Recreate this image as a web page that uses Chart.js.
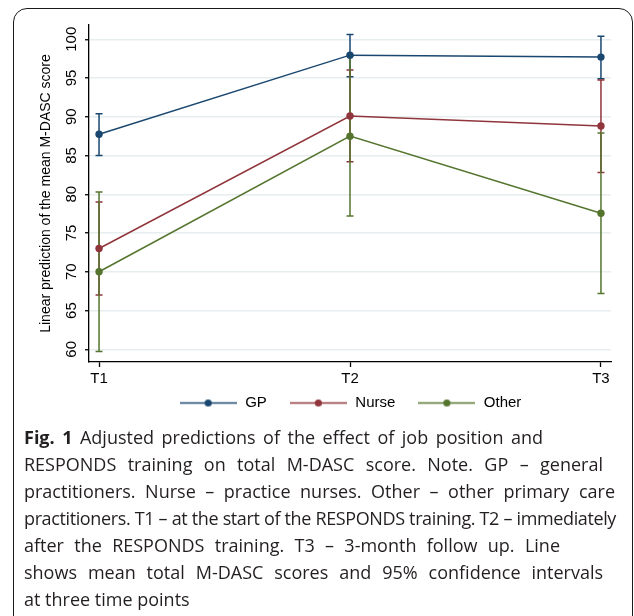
<!DOCTYPE html>
<html>
<head>
<meta charset="utf-8">
<script src="https://cdn.jsdelivr.net/npm/chart.js@4.4.1/dist/chart.umd.min.js"></script>
<style>
  html, body { margin: 0; padding: 0; background: #fff; }
  body { width: 634px; height: 616px; position: relative; overflow: hidden; }
  #frame { position: absolute; left: 13px; top: 8px; width: 620px; height: 640px;
           border: 1.6px solid #1a1a1a; border-radius: 14px; box-sizing: border-box; }
  #plot { position: absolute; left: 0; top: 0; }
  #caption { position: absolute; left: 24px; top: 424px; font-family: "Open Sans", sans-serif;
             font-size: 18px; line-height: 27px; color: #231f20; }
  #caption .ln { text-align: justify; text-align-last: justify; }
  #caption .last { text-align: left; text-align-last: left; }
</style>
</head>
<body>
<div id="frame"></div>
<canvas id="plot" width="634" height="438"></canvas>
<div id="caption">
  <div class="ln" style="width:519px"><b>Fig. 1</b> Adjusted predictions of the effect of job position and</div>
  <div class="ln" style="width:579px">RESPONDS training on total M-DASC score. Note. GP – general</div>
  <div class="ln" style="width:591px">practitioners. Nurse – practice nurses. Other – other primary care</div>
  <div class="ln" style="width:592px;letter-spacing:-0.38px">practitioners. T1 – at the start of the RESPONDS training. T2 – immediately</div>
  <div class="ln" style="width:536px">after the RESPONDS training. T3 – 3-month follow up. Line</div>
  <div class="ln" style="width:579px">shows mean total M-DASC scores and 95% confidence intervals</div>
  <div class="ln last">at three time points</div>
</div>
<script>
  // chart values
  const timePoints = ['T1', 'T2', 'T3'];
  const yTickValues = [60, 65, 70, 75, 80, 85, 90, 95, 100];
  const groups = ['GP', 'Nurse', 'Other'];

  const gpMean = [87.75, 97.95, 97.7];
  const gpLow = [85.0, 95.15, 94.9];
  const gpHigh = [90.4, 100.6, 100.4];

  const nurseMean = [73.0, 90.1, 88.8];
  const nurseLow = [67.0, 84.2, 82.8];
  const nurseHigh = [79.0, 96.05, 94.75];

  const otherMean = [70.0, 87.5, 77.55];
  const otherLow = [59.7, 77.2, 67.2];
  const otherHigh = [80.3, 97.8, 87.9];

  const groupColors = ['#1a476f', '#90353b', '#55752f'];
  const FONT = '"Liberation Sans", Arial, sans-serif';

  function series(label, mean, low, high, color) {
    return {
      label: label,
      data: mean.map((v, i) => ({x: i + 1, y: v})),
      ciLow: low,
      ciHigh: high,
      borderColor: color,
      backgroundColor: color,
      borderWidth: 1.5,
      pointRadius: 3.7,
      pointBorderWidth: 0,
      pointBackgroundColor: color,
      tension: 0,
      fill: false
    };
  }

  // vertical 95% CI caps, drawn under the lines
  const ciBars = {
    id: 'ciBars',
    beforeDatasetsDraw(chart) {
      const ctx = chart.ctx, x = chart.scales.x, y = chart.scales.y;
      chart.data.datasets.forEach(ds => {
        ctx.save();
        ctx.strokeStyle = ds.borderColor;
        ctx.lineWidth = 1.5;
        ds.data.forEach((pt, i) => {
          const px = x.getPixelForValue(pt.x);
          const y1 = y.getPixelForValue(ds.ciLow[i]);
          const y2 = y.getPixelForValue(ds.ciHigh[i]);
          ctx.beginPath();
          ctx.moveTo(px, y1); ctx.lineTo(px, y2);
          ctx.moveTo(px - 3.5, y1); ctx.lineTo(px + 3.5, y1);
          ctx.moveTo(px - 3.5, y2); ctx.lineTo(px + 3.5, y2);
          ctx.stroke();
        });
        ctx.restore();
      });
    }
  };

  // the legend sits closer to the axis than its item padding would allow
  const legendLift = {
    id: 'legendLift',
    afterLayout(chart) {
      const lg = chart.legend;
      if (lg) { lg.top -= 17.5; lg.bottom -= 17.5; }
    }
  };

  // legend key: line with a dot in the middle (stata style)
  function legendSymbol(color) {
    const c = document.createElement('canvas');
    c.width = 57; c.height = 9;
    const g = c.getContext('2d');
    g.strokeStyle = color; g.lineWidth = 1.5;
    g.beginPath(); g.moveTo(0, 4.5); g.lineTo(57, 4.5); g.stroke();
    g.fillStyle = color;
    g.beginPath(); g.arc(28.5, 4.5, 3.6, 0, Math.PI * 2); g.fill();
    return c;
  }

  const chart = new Chart(document.getElementById('plot'), {
    type: 'line',
    data: {
      datasets: [
        series(groups[0], gpMean, gpLow, gpHigh, groupColors[0]),
        series(groups[1], nurseMean, nurseLow, nurseHigh, groupColors[1]),
        series(groups[2], otherMean, otherLow, otherHigh, groupColors[2])
      ]
    },
    plugins: [ciBars, legendLift],
    options: {
      responsive: false,
      animation: false,
      events: [],
      layout: {padding: {left: 38, right: 23, top: 25, bottom: 0}},
      plugins: {
        tooltip: {enabled: false},
        legend: {
          position: 'bottom',
          fullSize: false,
          labels: {
            usePointStyle: true,
            pointStyleWidth: 59,
            padding: 22,
            color: '#000',
            font: {family: FONT, size: 15},
            generateLabels: ch => ch.data.datasets.map((ds, i) => ({
              text: ds.label,
              pointStyle: legendSymbol(ds.borderColor),
              fillStyle: ds.borderColor,
              strokeStyle: ds.borderColor,
              lineWidth: 0,
              hidden: false,
              datasetIndex: i
            }))
          }
        }
      },
      scales: {
        x: {
          type: 'linear',
          min: 0.96,
          max: 3.04,
          afterBuildTicks: s => { s.ticks = timePoints.map((t, i) => ({value: i + 1})); },
          ticks: {
            autoSkip: false,
            maxRotation: 0,
            padding: 3,
            color: '#000',
            font: {family: FONT, size: 15},
            callback: (v, i) => timePoints[i]
          },
          grid: {drawOnChartArea: false, tickLength: 5, tickColor: '#000', tickWidth: 1.3},
          border: {color: '#000', width: 1.3}
        },
        y: {
          type: 'linear',
          min: 58.36,
          max: 101.84,
          afterBuildTicks: s => { s.ticks = yTickValues.map(v => ({value: v})); },
          afterFit: s => { s.width = 51; },
          ticks: {
            minRotation: 90,
            maxRotation: 90,
            crossAlign: 'center',
            padding: 1,
            color: '#000',
            font: {family: FONT, size: 15}
          },
          grid: {color: '#e6eef0', lineWidth: 1.5, tickLength: 4, tickColor: '#000', tickWidth: 1.3},
          border: {color: '#000', width: 1.3},
          title: {
            display: true,
            text: 'Linear prediction of the mean M-DASC score',
            color: '#000',
            padding: 0,
            font: {family: FONT, size: 14}
          }
        }
      }
    }
  });
</script>
</body>
</html>
